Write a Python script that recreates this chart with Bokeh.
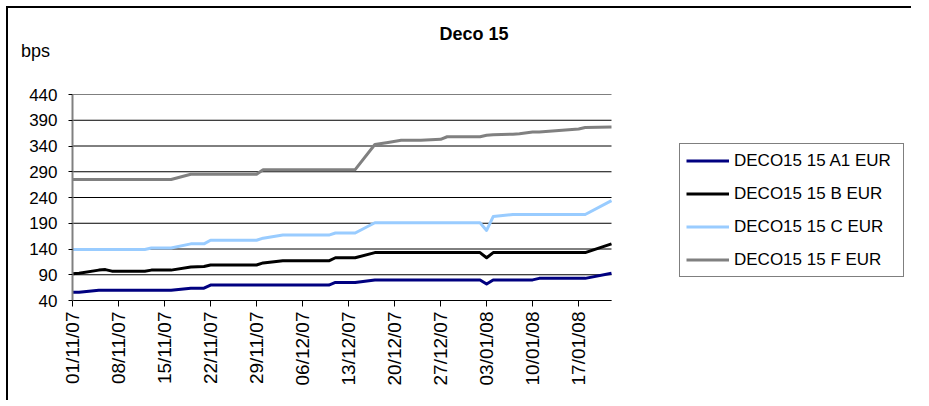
from datetime import datetime
import numpy as np
from bokeh.plotting import figure
from bokeh.models import (FixedTicker, DatetimeTickFormatter, Range1d, Legend,
                          LegendItem, Label)
from bokeh.embed import file_html
from bokeh.resources import INLINE

# ---------------- data ----------------
dates = ["01/11/07", "02/11/07", "05/11/07", "06/11/07", "07/11/07", "12/11/07",
         "13/11/07", "16/11/07", "19/11/07", "21/11/07", "22/11/07", "29/11/07",
         "30/11/07", "03/12/07", "10/12/07", "11/12/07", "14/12/07", "17/12/07",
         "19/12/07", "21/12/07", "24/12/07", "27/12/07", "28/12/07", "02/01/08",
         "03/01/08", "04/01/08", "07/01/08", "08/01/08", "10/01/08", "11/01/08",
         "15/01/08", "17/01/08", "18/01/08", "22/01/08"]
a1_eur = [56, 56, 60, 60, 60, 60, 60, 60, 64, 64, 70, 70, 70, 70, 70, 75, 75,
          80, 80, 80, 80, 80, 80, 80, 72, 80, 80, 80, 80, 83, 83, 83, 83, 93]
b_eur = [92, 93, 99, 100, 97, 97, 99, 99, 105, 106, 109, 109, 113, 117, 117, 123,
         123, 133, 133, 133, 133, 133, 133, 133, 123, 133, 133, 133, 133, 133,
         133, 133, 133, 150]
c_eur = [139, 139, 139, 139, 139, 139, 142, 142, 150, 150, 157, 157, 161, 167,
         167, 171, 171, 191, 191, 191, 191, 191, 191, 191, 176, 203, 207, 207,
         207, 207, 207, 207, 207, 234]
f_eur = [275, 275, 275, 275, 275, 275, 275, 275, 285, 285, 285, 285, 294, 294,
         294, 294, 294, 343, 347, 351, 351, 353, 358, 358, 361, 362, 363, 364,
         367, 367, 371, 373, 376, 377]
series_names = ["DECO15 15 A1 EUR", "DECO15 15 B EUR", "DECO15 15 C EUR",
                "DECO15 15 F EUR"]
x_tick_labels = ["01/11/07", "08/11/07", "15/11/07", "22/11/07", "29/11/07",
                 "06/12/07", "13/12/07", "20/12/07", "27/12/07", "03/01/08",
                 "10/01/08", "17/01/08"]
y_ticks = [40, 90, 140, 190, 240, 290, 340, 390, 440]
title_text = "Deco 15"
y_label = "bps"

# ---------------- build ----------------
FONT = "Liberation Sans"
xs = [datetime.strptime(d, "%d/%m/%y") for d in dates]
to_ms = lambda d: d.timestamp() * 1000
tick_ms = [to_ms(datetime.strptime(t, "%d/%m/%y")) for t in x_tick_labels]

W = 905
HT = 70            # header strip holding the title and the unit label
H = 324            # main chart
BL, BT, BB = 64, 18, 100
PLOT_W = 539       # width of the plotted (data) area in px
frame_w = W - BL
x0, x1 = to_ms(xs[0]), to_ms(xs[-1])
x_end = x0 + (x1 - x0) * frame_w / PLOT_W   # frame also holds the legend

# ---- header strip (texts only) ----
head = figure(width=W, height=HT, output_backend="svg", toolbar_location=None,
              x_range=Range1d(0, W), y_range=Range1d(0, HT),
              min_border=0, min_border_left=0, min_border_right=0,
              min_border_top=0, min_border_bottom=0)
head.axis.visible = False
head.grid.visible = False
head.outline_line_color = None
head.border_fill_color = "white"
head.background_fill_color = "white"
head.styles = {"border-left": "2px solid black", "border-top": "2px solid black",
               "margin-left": "6px", "margin-top": "6px"}
head.add_layout(Label(x=465.5, y=HT - 25.5, x_units="screen", y_units="screen",
                      text=title_text, text_font=FONT, text_font_size="18px",
                      text_font_style="bold", text_align="center",
                      text_baseline="alphabetic", text_color="black"))
head.add_layout(Label(x=12.5, y=HT - 42.5, x_units="screen", y_units="screen",
                      text=y_label, text_font=FONT, text_font_size="18px",
                      text_align="left", text_baseline="alphabetic",
                      text_color="black"))

# ---- main chart ----
p = figure(width=W, height=H, x_axis_type="datetime",
           output_backend="svg", toolbar_location=None,
           x_range=Range1d(x0, x_end), y_range=Range1d(y_ticks[0], y_ticks[-1]),
           min_border_left=BL, min_border_top=BT, min_border_bottom=BB,
           min_border_right=0)
p.styles = {"border-left": "2px solid black", "margin-left": "6px"}
p.outline_line_color = None
p.background_fill_color = "white"
p.border_fill_color = "white"

p.xaxis.ticker = FixedTicker(ticks=tick_ms)
p.xaxis.bounds = (x0, x1)
fmt = "%d/%m/%y"
p.xaxis.formatter = DatetimeTickFormatter(milliseconds=fmt, seconds=fmt, minsec=fmt,
                                          minutes=fmt, hourmin=fmt, hours=fmt,
                                          days=fmt, months=fmt, years=fmt)
p.xaxis.major_label_orientation = np.pi / 2
p.xaxis.axis_line_color = "black"
p.xaxis.axis_line_width = 1
p.xaxis.major_tick_line_color = "black"
p.xaxis.major_tick_out = 6
p.xaxis.major_tick_in = 0
p.xaxis.minor_tick_line_color = None
p.xaxis.major_label_standoff = 5
p.xaxis.major_label_text_font = FONT
p.xaxis.major_label_text_font_size = "19px"
p.xaxis.major_label_text_color = "black"

p.yaxis.ticker = FixedTicker(ticks=y_ticks)
p.yaxis.axis_line_color = "#808080"
p.yaxis.axis_line_width = 2
p.yaxis.major_tick_line_color = "black"
p.yaxis.major_tick_out = 4
p.yaxis.major_tick_in = 0
p.yaxis.minor_tick_line_color = None
p.yaxis.major_label_standoff = 11
p.yaxis.major_label_text_font = FONT
p.yaxis.major_label_text_font_size = "17px"
p.yaxis.major_label_text_color = "black"

# horizontal gridlines only across the data period
p.xgrid.grid_line_color = None
p.ygrid.grid_line_color = None
p.segment(x0=[xs[0]] * len(y_ticks), x1=[xs[-1]] * len(y_ticks),
          y0=y_ticks, y1=y_ticks, line_color="black", line_width=1)

colors = ["#000080", "#000000", "#99CCFF", "#808080"]
renderers = []
for vals, col in zip([a1_eur, b_eur, c_eur, f_eur], colors):
    r = p.line(xs, vals, line_color=col, line_width=3, line_join="round")
    renderers.append(r)

legend = Legend(items=[LegendItem(label=n, renderers=[r])
                       for n, r in zip(series_names, renderers)],
                location=(607, 23))
legend.border_line_color = "black"
legend.border_line_width = 1
legend.background_fill_color = "white"
legend.background_fill_alpha = 1
legend.label_text_font = FONT
legend.label_text_font_size = "17px"
legend.label_text_color = "black"
legend.glyph_width = 43
legend.glyph_height = 21
legend.label_height = 21
legend.label_width = 163
legend.label_standoff = 5
legend.spacing = 12
legend.padding = 6
legend.margin = 0
p.add_layout(legend)

open("out.html", "w").write(file_html([head, p], INLINE))
